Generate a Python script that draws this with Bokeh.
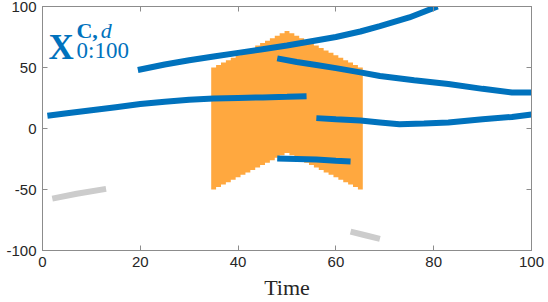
from bokeh.plotting import figure
from bokeh.models import Range1d, LinearAxis, FixedTicker
from bokeh.core.properties import value
from bokeh.embed import file_html
from bokeh.resources import INLINE

# ---- data ----
x_ticks = [0, 20, 40, 60, 80, 100]
x_tick_labels = ["0", "20", "40", "60", "80", "100"]
y_ticks = [-100, -50, 0, 50, 100]
y_tick_labels = ["-100", "-50", "0", "50", "100"]

band_t = [35, 36, 37, 38, 39, 40, 41, 42, 43, 44, 45, 46, 47, 48, 49, 50,
          51, 52, 53, 54, 55, 56, 57, 58, 59, 60, 61, 62, 63, 64, 65]
band_top = [50, 52, 54, 56, 58, 60, 62, 64, 66, 68, 70, 72, 74, 76, 78, 80,
            78, 76, 74, 72, 70, 68, 66, 64, 62, 60, 58, 56, 54, 52, 50]
band_bottom = [-50, -48, -46, -44, -42, -40, -38, -36, -34, -32, -30, -28, -26, -24, -22, -20,
               -22, -24, -26, -28, -30, -32, -34, -36, -38, -40, -42, -44, -46, -48, -50]

blue1_x = [19.5, 25, 30, 35, 40, 45, 50, 55, 60, 65, 69, 75, 80.8]
blue1_y = [48, 52.5, 56, 59, 62, 65, 68, 71.5, 75, 79.5, 84, 91, 100]

blue2_x = [1, 5, 10, 15, 20, 25, 30, 35, 40, 45, 50, 54]
blue2_y = [10.5, 12.5, 15, 17.5, 20, 22, 23.5, 24.5, 25, 25.5, 26, 26.5]

blue3_x = [48, 52, 56, 60, 65, 69, 76, 83, 90, 96, 100]
blue3_y = [57.5, 54.5, 52, 49.5, 46, 43, 39.5, 36.5, 32.5, 29.5, 29.5]

blue4_x = [56, 60, 65, 69, 73, 78, 83, 90, 96, 100]
blue4_y = [8.5, 7.5, 6.5, 5, 3.5, 4, 5, 7.5, 9.5, 11.5]

blue5_x = [48, 52, 56, 60, 63]
blue5_y = [-24.5, -25, -25.5, -26.5, -27]

gray1_x = [2, 7, 13]
gray1_y = [-57.5, -53.5, -49.5]

gray2_x = [63, 66, 69]
gray2_y = [-84.5, -87.5, -90.5]

BLUE = "#0072BD"
ORANGE = "#FFA83F"
GRAY = "#CCCCCC"
AXIS = "#8c8c8c"
TEXT = "#262626"

p = figure(width=548, height=302, x_range=Range1d(0, 100), y_range=Range1d(-100, 100),
           output_backend="svg", toolbar_location=None,
           min_border_left=42, min_border_right=17, min_border_top=6, min_border_bottom=52)
p.xgrid.visible = False
p.ygrid.visible = False
p.outline_line_color = AXIS
p.background_fill_color = "white"
p.border_fill_color = "white"

def style_axis(ax, ticks, labels=None):
    ax.ticker = FixedTicker(ticks=ticks)
    ax.major_tick_in = 5
    ax.major_tick_out = 0
    ax.minor_tick_in = 0
    ax.minor_tick_out = 0
    ax.axis_line_color = AXIS
    ax.major_tick_line_color = AXIS
    if labels is None:
        ax.major_label_text_color = None
        ax.major_label_text_font_size = "1px"
        ax.major_label_standoff = 0
    else:
        ax.major_label_overrides = {t: l for t, l in zip(ticks, labels)}
        ax.major_label_text_font = "Liberation Sans"
        ax.major_label_text_font_size = "15px"
        ax.major_label_text_color = TEXT

style_axis(p.xaxis[0], x_ticks, x_tick_labels)
p.xaxis[0].major_label_standoff = 6
style_axis(p.yaxis[0], y_ticks, y_tick_labels)
p.yaxis[0].major_label_standoff = 6
p.xaxis[0].axis_label = "Time"
p.xaxis[0].axis_label_text_font = "Liberation Serif"
p.xaxis[0].axis_label_text_font_style = "normal"
p.xaxis[0].axis_label_text_font_size = "22px"
p.xaxis[0].axis_label_text_color = TEXT
p.xaxis[0].axis_label_standoff = 5

top_ax = LinearAxis()
style_axis(top_ax, x_ticks)
p.add_layout(top_ax, "above")
right_ax = LinearAxis()
style_axis(right_ax, y_ticks)
p.add_layout(right_ax, "right")

# stepped band outline built from the band arrays
band_xs, band_ys = [], []
for t, top in zip(band_t, band_top):
    band_xs += [t - 0.5, t + 0.5]
    band_ys += [top, top]
for t, bot in zip(reversed(band_t), reversed(band_bottom)):
    band_xs += [t + 0.5, t - 0.5]
    band_ys += [bot, bot]
p.patch(band_xs, band_ys, fill_color=ORANGE, line_color=None)

for xs, ys in [(blue1_x, blue1_y), (blue2_x, blue2_y), (blue3_x, blue3_y),
               (blue4_x, blue4_y), (blue5_x, blue5_y)]:
    p.line(xs, ys, line_color=BLUE, line_width=6)
for xs, ys in [(gray1_x, gray1_y), (gray2_x, gray2_y)]:
    p.line(xs, ys, line_color=GRAY, line_width=6)

# label X^{C,d}_{0:100}
p.text(x=[1.23], y=[66.4], text=["X"], text_font=value("Liberation Serif"),
       text_font_style="bold", text_font_size="35px", text_color=BLUE,
       text_baseline="alphabetic", text_align="left")
p.text(x=[6.95], y=[80.3], text=["C,"], text_font=value("Liberation Serif"),
       text_font_style="bold", text_font_size="22px", text_color=BLUE,
       text_baseline="alphabetic", text_align="left")
p.text(x=[11.9], y=[80.3], text=["d"], text_font=value("Liberation Serif"),
       text_font_style="italic", text_font_size="22px", text_color=BLUE,
       text_baseline="alphabetic", text_align="left")
p.text(x=[6.95], y=[64.3], text=["0:100"], text_font=value("Liberation Serif"),
       text_font_style="normal", text_font_size="23px", text_color=BLUE,
       text_baseline="alphabetic", text_align="left")

open("out.html", "w").write(file_html(p, INLINE))
